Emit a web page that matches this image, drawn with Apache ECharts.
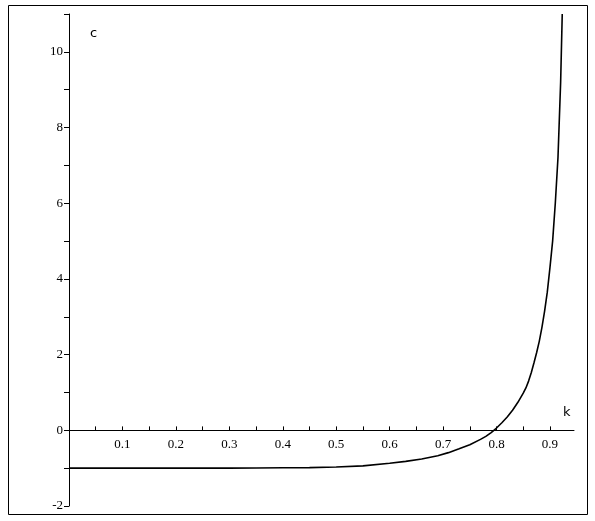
<!DOCTYPE html>
<html>
<head>
<meta charset="utf-8">
<script src="https://cdn.jsdelivr.net/npm/echarts@6/dist/echarts.min.js"></script>
<style>
  html, body { margin: 0; padding: 0; background: #fff; }
  #chart { width: 595px; height: 521px; }
</style>
</head>
<body>
<div id="chart"></div>
<script>
// values
var kValues = [0, 0.05, 0.1, 0.15, 0.2, 0.25, 0.3, 0.35, 0.4, 0.45, 0.5, 0.55, 0.6, 0.63,
  0.66, 0.69, 0.71, 0.73, 0.75, 0.77, 0.78, 0.79, 0.8, 0.81, 0.82, 0.83, 0.84, 0.85,
  0.855, 0.86, 0.865, 0.87, 0.875, 0.88, 0.885, 0.89, 0.895, 0.9, 0.905, 0.91, 0.915,
  0.92, 0.923];
var cValues = [-1, -1, -1, -1, -1, -1, -1, -0.995, -0.99, -0.985, -0.97, -0.94, -0.87, -0.82,
  -0.76, -0.67, -0.59, -0.49, -0.38, -0.24, -0.16, -0.06, 0.06, 0.2, 0.35, 0.53, 0.74, 0.98,
  1.12, 1.3, 1.52, 1.78, 2.05, 2.35, 2.72, 3.15, 3.65, 4.3, 5.0, 6.0, 7.2,
  9.2, 11];
var yLabels = [-2, 0, 2, 4, 6, 8, 10];
var xLabels = [0.1, 0.2, 0.3, 0.4, 0.5, 0.6, 0.7, 0.8, 0.9];

var points = kValues.map(function (k, i) { return [k, cValues[i]]; });

function near(list, v) {
  for (var i = 0; i < list.length; i++) {
    if (Math.abs(list[i] - v) < 1e-6) return true;
  }
  return false;
}

var chart = echarts.init(document.getElementById('chart'));
var labelFont = { fontFamily: '"Liberation Serif", serif', fontSize: 13, color: '#000' };

chart.setOption({
  animation: false,
  grid: { left: 69, right: 21, top: 14, bottom: 15 },
  xAxis: {
    type: 'value',
    position: 'bottom',
    // the k axis sits at c = 0, which is 2 units above the bottom of the plot
    offset: -75.6,
    min: 0, max: 0.945, interval: 0.05,
    axisLine: { onZero: false, lineStyle: { color: '#000', width: 1 } },
    axisTick: { inside: true, length: 4, lineStyle: { color: '#000' } },
    axisLabel: Object.assign({
      margin: 8,
      showMinLabel: true, showMaxLabel: false,
      formatter: function (v) { return near(xLabels, v) ? v.toFixed(1) : ''; }
    }, labelFont),
    splitLine: { show: false }
  },
  yAxis: {
    type: 'value',
    min: -2, max: 11, interval: 1,
    axisLine: { show: true, lineStyle: { color: '#000', width: 1 } },
    axisTick: { show: true, length: 5, lineStyle: { color: '#000' } },
    axisLabel: Object.assign({
      margin: 6,
      formatter: function (v) { return near(yLabels, v) ? String(v) : ''; }
    }, labelFont),
    splitLine: { show: false }
  },
  graphic: [
    {
      type: 'rect', silent: true, z: -1,
      shape: { x: 8.5, y: 5.5, width: 579, height: 509 },
      style: { fill: 'none', stroke: '#000', lineWidth: 1 }
    },
    {
      type: 'text', left: 90, top: 27,
      style: { text: 'c', font: '13px "DejaVu Sans", sans-serif', fill: '#000' }
    },
    {
      type: 'text', left: 563, top: 406,
      style: { text: 'k', font: '13px "DejaVu Sans", sans-serif', fill: '#000' }
    }
  ],
  series: [{
    type: 'line',
    data: points,
    showSymbol: false,
    smooth: false,
    lineStyle: { color: '#000', width: 1.6 }
  }]
});
</script>
</body>
</html>
